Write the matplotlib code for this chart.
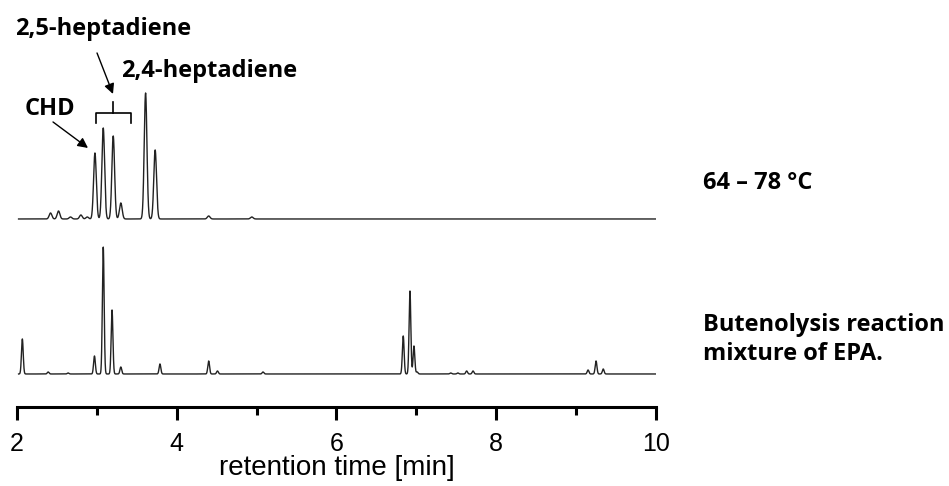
import numpy as np
import matplotlib.pyplot as plt
from matplotlib.ticker import MultipleLocator

# retention time [min] and peak height (signal units) for each trace
rt_hot = [2.42, 2.52, 2.67, 2.80, 2.88, 2.976, 3.08, 3.205, 3.30, 3.61, 3.73, 4.40, 4.94]
h_hot = [6, 8, 2, 4, 2, 66, 91, 83, 16, 126, 69, 3, 2]

rt_mix = [2.067, 2.39, 2.64, 2.97, 3.08, 3.19, 3.30, 3.79, 4.40, 4.51, 5.08,
          6.836, 6.92, 6.97, 7.01, 7.43, 7.52, 7.63, 7.71, 9.15, 9.25, 9.34]
h_mix = [35, 2, 1, 18, 127, 64, 7, 10, 13, 3, 2,
         38, 83, 28, 2, 1, 1, 3, 3, 4, 13, 5]

offset_hot = 155
t = np.linspace(2.02, 10.0, 8000)


def trace(rts, heights, sigma):
    y = np.zeros_like(t)
    for r, h in zip(rts, heights):
        y += h * np.exp(-0.5 * ((t - r) / sigma) ** 2)
    return y


fig = plt.figure(figsize=(9.49, 4.86), dpi=100)
ax = fig.add_axes([0.0179, 0.1626, 0.6733, 0.7963])

ax.plot(t, trace(rt_hot, h_hot, 0.017) + offset_hot, color='#222222', lw=1.0)
ax.plot(t, trace(rt_mix, h_mix, 0.011), color='#222222', lw=1.0)

ax.set_xlim(2, 10)
ax.set_ylim(-33, 354)
for s in ['top', 'left', 'right']:
    ax.spines[s].set_visible(False)
ax.spines['bottom'].set_linewidth(2.2)
ax.set_yticks([])
ax.xaxis.set_major_locator(MultipleLocator(2))
ax.xaxis.set_minor_locator(MultipleLocator(1))
ax.tick_params(axis='x', which='major', length=9, width=2.2, labelsize=18,
               direction='out', pad=9)
ax.tick_params(axis='x', which='minor', length=6, width=2.2, direction='out')
for lab in ax.get_xticklabels():
    lab.set_fontfamily('Liberation Sans')
ax.set_xlabel('retention time [min]', fontsize=20, family='Liberation Sans', labelpad=-1)

# peak labels
bold = dict(family='Open Sans', fontweight='bold', fontsize=17, color='black')
arrow = dict(arrowstyle='-|>', color='black', lw=1.0, shrinkA=0, shrinkB=0,
             mutation_scale=15)
ax.text(2.10, 265, 'CHD', ha='left', va='center', **bold)
ax.annotate('', xy=(2.889, 226), xytext=(2.451, 252), arrowprops=arrow)
ax.text(1.975, 345, '2,5-heptadiene', ha='left', va='center', clip_on=False, **bold)
ax.annotate('', xy=(3.202, 280), xytext=(3.002, 321), arrowprops=arrow)
ax.text(3.30, 303, '2,4-heptadiene', ha='left', va='center', **bold)

# bracket over the heptadiene pair
bx0, bx1, bxc = 2.989, 3.423, 3.2
ax.plot([bx0, bx0, bx1, bx1], [251, 261, 261, 251], color='black', lw=1.2)
ax.plot([bxc, bxc], [261, 272], color='black', lw=1.2)

# trace labels
side = dict(family='Open Sans', fontweight='bold', fontsize=17, color='black')
fig.text(0.741, 1 - 183 / 486, '64 \u2013 78 \u00b0C', ha='left', va='center', **side)
fig.text(0.741, 1 - 325 / 486, 'Butenolysis reaction', ha='left', va='center', **side)
fig.text(0.741, 1 - 354 / 486, 'mixture of EPA.', ha='left', va='center', **side)

fig.savefig('out.png', dpi=100)
